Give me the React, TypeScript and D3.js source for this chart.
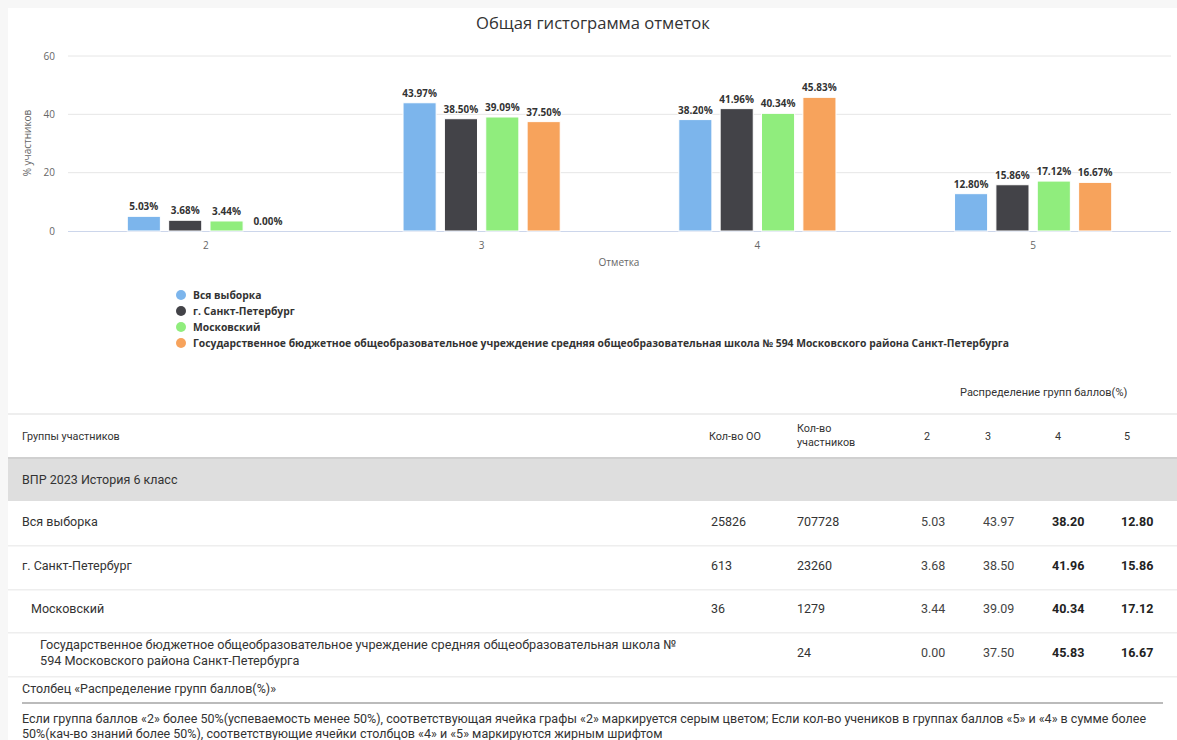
import * as d3 from 'd3';

const categories = ['2', '3', '4', '5'];
const seriesNames = [
  'Вся выборка',
  'г. Санкт-Петербург',
  'Московский',
  'Государственное бюджетное общеобразовательное учреждение средняя общеобразовательная школа № 594 Московского района Санкт-Петербурга',
];
const seriesValues = [
  [5.03, 43.97, 38.2, 12.8],
  [3.68, 38.5, 41.96, 15.86],
  [3.44, 39.09, 40.34, 17.12],
  [0.0, 37.5, 45.83, 16.67],
];
const colors = ['#7cb5ec', '#434348', '#90ed7d', '#f7a35c'];
const yTicks = [0, 20, 40, 60];

// table
const rowLabels = [
  ['Вся выборка'],
  ['г. Санкт-Петербург'],
  ['Московский'],
  ['Государственное бюджетное общеобразовательное учреждение средняя общеобразовательная школа №', '594 Московского района Санкт-Петербурга'],
];
const rowIndent = [0, 0, 9, 18];
const ooCounts = ['25826', '613', '36', ''];
const participants = ['707728', '23260', '1279', '24'];

const chartFont = '"Open Sans", "DejaVu Sans", sans-serif';
const tableFont = 'Roboto, "Noto Sans", sans-serif';

function App() {
  const W = 1177, H = 740;
  const x0 = d3.scaleBand().domain(categories).range([68, 1171]).padding(0);
  const x1 = d3.scaleBand().domain(d3.range(4).map(String))
    .range([x0.bandwidth() * 0.2, x0.bandwidth() * 0.8]).paddingInner(0.2).paddingOuter(0.1);
  const y = d3.scaleLinear().domain([0, 60]).range([231, 56]);

  const rowY = [526, 570, 613, 649];
  const rowLines = [545, 589, 632, 676];
  const numX = [921, 983, 1052, 1121];
  const headX = [924, 985, 1055, 1124];

  return (
    <svg width={W} height={H} style={{ position: 'absolute', left: 0, top: 0 }}>
      <rect width={W} height={H} fill="#f7f7f7" />
      <rect x={8} y={8} width={W - 8} height={H - 8} fill="#ffffff" />

      <text x={593} y={29} textAnchor="middle" fontFamily={chartFont} fontSize={16.6} fill="#333">
        Общая гистограмма отметок
      </text>

      {yTicks.map(t => (
        <g key={t}>
          {t > 0 && <line x1={68} x2={1171} y1={y(t)} y2={y(t)} stroke="#e6e6e6" />}
          <text x={55} y={y(t) + 3.5} textAnchor="end" fontFamily={chartFont} fontSize={10} fill="#666">{t}</text>
        </g>
      ))}
      <line x1={68} x2={1171} y1={y(0) + 0.5} y2={y(0) + 0.5} stroke="#ccd6eb" />
      <text transform={`translate(31,143) rotate(-90)`} textAnchor="middle" fontFamily={chartFont} fontSize={10} fill="#666">
        % участников
      </text>

      {categories.map((c, ci) => (
        <g key={c} transform={`translate(${x0(c)},0)`}>
          <text x={x0.bandwidth() / 2} y={249} textAnchor="middle" fontFamily={chartFont} fontSize={10} fill="#666">{c}</text>
          {seriesValues.map((vals, si) => {
            const v = vals[ci];
            const bx = x1(String(si))!;
            return (
              <g key={si}>
                {v > 0 && (
                  <rect x={bx} y={y(v)} width={x1.bandwidth()} height={y(0) - y(v)} fill={colors[si]} stroke="#fff" strokeWidth={1} />
                )}
                <text x={bx + x1.bandwidth() / 2} y={y(v) - 6} textAnchor="middle" fontFamily={chartFont} fontSize={10}
                  fontWeight="bold" fill="#333" stroke="#fff" strokeWidth={2} paintOrder="stroke">
                  {v.toFixed(2)}%
                </text>
              </g>
            );
          })}
        </g>
      ))}
      <text x={619} y={266} textAnchor="middle" fontFamily={chartFont} fontSize={10} fill="#666">Отметка</text>

      {seriesNames.map((n, i) => (
        <g key={n}>
          <circle cx={181} cy={295 + i * 16} r={5} fill={colors[i]} />
          <text x={193} y={298.5 + i * 16} fontFamily={chartFont} fontSize={10.35} fontWeight="bold" fill="#333">{n}</text>
        </g>
      ))}

      {/* table */}
      <g fontFamily={tableFont} fill="#333">
        <text x={960} y={396} fontSize={11}>Распределение групп баллов(%)</text>
        <rect x={8} y={413} width={W - 8} height={2} fill="#eeeeee" />
        <text x={22} y={440} fontSize={10.8}>Группы участников</text>
        <text x={709} y={440} fontSize={10.8}>Кол-во ОО</text>
        <text x={797} y={432} fontSize={10.8}>Кол-во</text>
        <text x={797} y={446} fontSize={10.8}>участников</text>
        {categories.map((c, i) => (
          <text key={c} x={headX[i]} y={440} fontSize={10.8}>{c}</text>
        ))}
        <rect x={8} y={457} width={W - 8} height={2} fill="#d0d0d0" />
        <rect x={8} y={459} width={W - 8} height={42} fill="#dedede" />
        <text x={22} y={484} fontSize={12.5}>ВПР 2023 История 6 класс</text>

        {rowLabels.map((lines, r) => (
          <g key={r}>
            {lines.map((l, li) => (
              <text key={li} x={22 + rowIndent[r]} y={rowY[r] + li * 16} fontSize={r === 3 ? 12.7 : 12.5}>{l}</text>
            ))}
            <text x={711} y={r === 3 ? 657 : rowY[r]} fontSize={12.5}>{ooCounts[r]}</text>
            <text x={797} y={r === 3 ? 657 : rowY[r]} fontSize={12.5}>{participants[r]}</text>
            {seriesValues[r].map((v, ci) => (
              <text key={ci} x={numX[ci]} y={r === 3 ? 657 : rowY[r]} fontSize={12.5}
                fontWeight={ci >= 2 ? 'bold' : 'normal'} fill={ci >= 2 ? '#222' : '#444'}>
                {v.toFixed(2)}
              </text>
            ))}
            <rect x={8} y={rowLines[r]} width={W - 8} height={1.5} fill="#eeeeee" />
          </g>
        ))}
        <text x={22} y={693} fontSize={12.5}>Столбец «Распределение групп баллов(%)»</text>
        <rect x={22} y={702} width={1141} height={2} fill="#bbbbbb" />
        <text x={22} y={723} fontSize={12.5}>
          Если группа баллов «2» более 50%(успеваемость менее 50%), соответствующая ячейка графы «2» маркируется серым цветом; Если кол-во учеников в группах баллов «5» и «4» в сумме более
        </text>
        <text x={22} y={738} fontSize={12.5}>50%(кач-во знаний более 50%), соответствующие ячейки столбцов «4» и «5» маркируются жирным шрифтом</text>
      </g>
    </svg>
  );
}

export default App;
